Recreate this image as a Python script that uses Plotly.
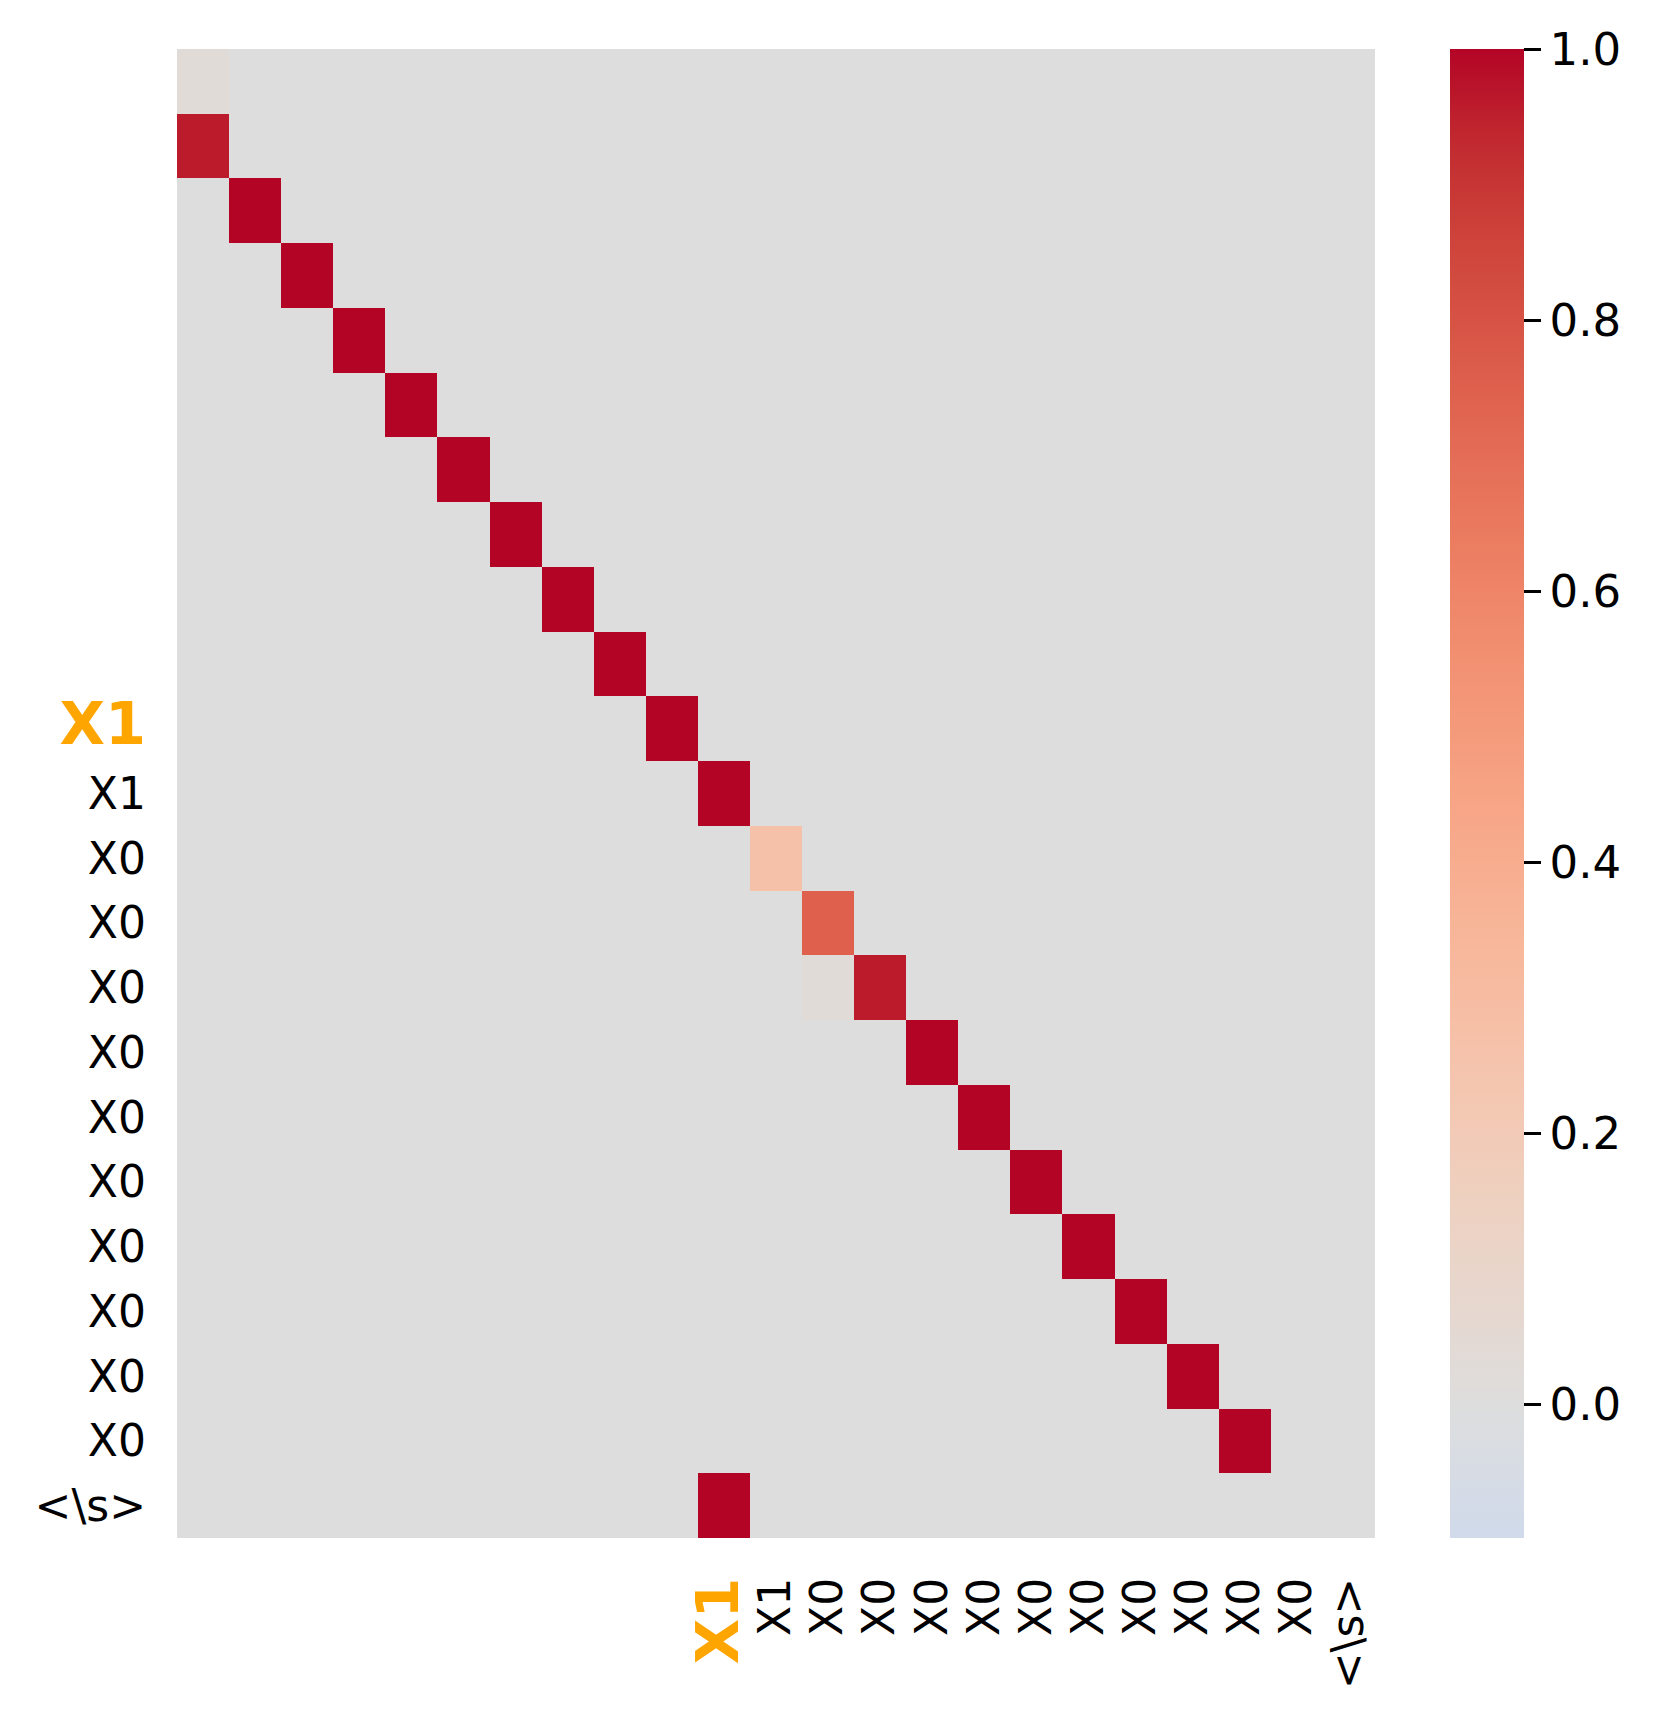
import numpy as np
import plotly.graph_objects as go

# token labels along both axes (first 10 positions unlabeled)
HL = '<b><span style="color:orange;font-size:59px">X1</span></b>'
row_labels = [""] * 10 + [HL, "X1"] + ["X0"] * 10 + ["<\\s>"]
col_labels = [""] * 10 + [HL, "X1"] + ["X0"] * 10 + ["<\\s>"]

# cells that stand out from ~0 (row, col, value)
peak_rows = [0, 1, 2, 3, 4, 5, 6, 7, 8, 9, 10, 11, 12, 13, 14, 14, 15, 16, 17, 18, 19, 20, 21, 22]
peak_cols = [0, 0, 1, 2, 3, 4, 5, 6, 7, 8, 9, 10, 11, 12, 12, 13, 14, 15, 16, 17, 18, 19, 20, 10]
peak_vals = [0.03, 0.96, 1.0, 1.0, 1.0, 1.0, 1.0, 1.0, 1.0, 1.0, 1.0, 1.0, 0.27, 0.75,
             0.03, 0.96, 1.0, 1.0, 1.0, 1.0, 1.0, 1.0, 1.0, 1.0]

zmin, zmax = -0.0985, 1.0

n = len(row_labels)
z = np.zeros((n, len(col_labels)))
for r, c, v in zip(peak_rows, peak_cols, peak_vals):
    z[r, c] = v

# coolwarm (Moreland) table, centred at 0
cw = [(59,76,192),(68,90,204),(77,104,215),(87,117,225),(98,130,234),(108,142,241),
      (119,154,247),(130,165,251),(141,176,254),(152,185,255),(163,194,255),(174,201,253),
      (184,208,249),(194,213,244),(204,217,238),(213,219,230),(221,221,221),(229,216,209),
      (236,211,197),(241,204,185),(245,196,173),(247,187,160),(247,177,148),(247,166,135),
      (244,154,123),(241,141,111),(236,127,99),(229,112,88),(222,96,77),(213,80,66),
      (203,62,56),(192,40,47),(180,4,38)]
cw = np.array(cw, dtype=float)


def coolwarm(f):
    pos = f * (len(cw) - 1)
    i = min(int(pos), len(cw) - 2)
    t = pos - i
    c = cw[i] * (1 - t) + cw[i + 1] * t
    return "rgb(%d,%d,%d)" % tuple(np.round(c))


colorscale = []
for p in np.linspace(0, 1, 40):
    v = zmin + p * (zmax - zmin)
    colorscale.append([p, coolwarm((v + 1) / 2)])

fig = go.Figure()
fig.add_trace(go.Heatmap(
    z=z,
    x=list(range(n)),
    y=list(range(n)),
    zmin=zmin, zmax=zmax,
    colorscale=colorscale,
    showscale=True,
    colorbar=dict(
        x=1.0626, xanchor="left", xpad=0,
        y=0.5, yanchor="middle", len=1, lenmode="fraction", ypad=0,
        thickness=74, outlinewidth=0,
        tickvals=[0, 0.2, 0.4, 0.6, 0.8, 1.0],
        ticktext=["0.0", "0.2", "0.4", "0.6", "0.8", "1.0"],
        ticks="outside", ticklen=17, tickwidth=2.5, tickcolor="black",
        tickfont=dict(family="DejaVu Sans", size=45, color="black"),
    ),
    hovertemplate="row %{y}, col %{x}: %{z:.2f}<extra></extra>",
))

# page body has an 8px margin, so shift left/top margins accordingly
fig.update_layout(
    width=1660, height=1715,
    margin=dict(l=169, r=293, t=41, b=185),
    plot_bgcolor="white", paper_bgcolor="white",
    font=dict(family="DejaVu Sans", color="black"),
)
fig.update_xaxes(
    tickmode="array", tickvals=list(range(n)), ticktext=col_labels,
    tickangle=-90, tickfont=dict(size=44), ticks="", ticklabelstandoff=30,
    showgrid=False, zeroline=False, showline=False, range=[-0.5, n - 0.5],
)
fig.update_yaxes(
    tickmode="array", tickvals=list(range(n)), ticktext=row_labels,
    tickfont=dict(size=44), ticks="", ticklabelstandoff=30,
    showgrid=False, zeroline=False, showline=False, range=[n - 0.5, -0.5],
)

fig.write_html("out.html")
